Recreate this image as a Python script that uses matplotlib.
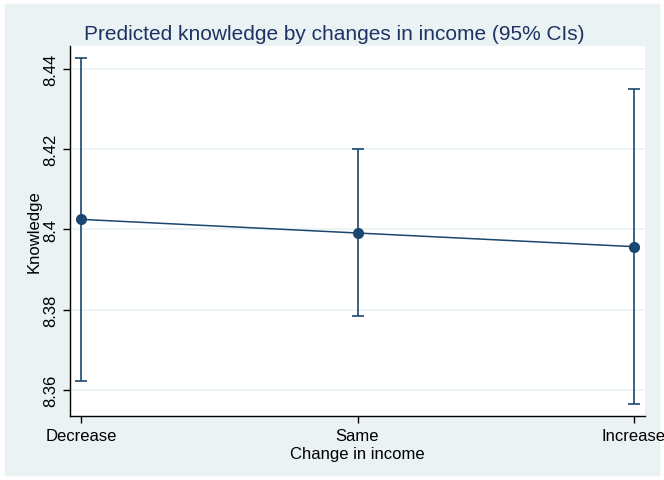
import matplotlib.pyplot as plt
from matplotlib.patches import Rectangle

# Predicted margins with 95% confidence limits
categories = ["Decrease", "Same", "Increase"]
predicted = [8.4025, 8.3991, 8.3957]
ci_lower = [8.3622, 8.3783, 8.3564]
ci_upper = [8.4428, 8.4200, 8.4351]

navy = "#1a476f"
region = "#eaf2f3"

plt.rcParams["font.family"] = ["Liberation Sans", "DejaVu Sans"]

fig = plt.figure(figsize=(6.64, 4.81), dpi=100, facecolor="white")
fig.patches.append(Rectangle((5 / 664, 5 / 481), 654 / 664, 471 / 481,
                             transform=fig.transFigure, color=region, zorder=-5))

ax = fig.add_axes([70 / 664, 64 / 481, 575 / 664, 370 / 481])
ax.set_facecolor("white")

x = list(range(1, len(categories) + 1))
yerr = [[p - lo for p, lo in zip(predicted, ci_lower)],
        [hi - p for p, hi in zip(predicted, ci_upper)]]

ax.errorbar(x, predicted, yerr=yerr, fmt="none", ecolor=navy, elinewidth=1.2,
            capsize=4, capthick=1.2, zorder=2)
ax.plot(x, predicted, color=navy, linewidth=1.1, marker="o", markersize=7, zorder=3)

ax.set_xlim(0.96, 3.04)
ax.set_ylim(8.3535, 8.4457)
ax.set_xticks(x)
ax.set_xticklabels(categories, fontsize=12)
yticks = [8.36, 8.38, 8.40, 8.42, 8.44]
ax.set_yticks(yticks)
ax.set_yticklabels(["8.36", "8.38", "8.4", "8.42", "8.44"], fontsize=12,
                   rotation=90, va="center")
ax.yaxis.grid(True, color=region, linewidth=1.2)
ax.set_axisbelow(True)

for side in ["top", "right"]:
    ax.spines[side].set_visible(False)
for side in ["left", "bottom"]:
    ax.spines[side].set_linewidth(1.0)
ax.tick_params(axis="both", length=5, width=1.0, direction="out")

ax.set_xlabel("Change in income", fontsize=12, labelpad=2)
ax.set_ylabel("Knowledge", fontsize=12, labelpad=1)
fig.text(334 / 664, 1 - 34 / 481, "Predicted knowledge by changes in income (95% CIs)",
         ha="center", va="center", fontsize=15, color="#1e3264")

fig.savefig("out.png", dpi=100, facecolor=fig.get_facecolor())
